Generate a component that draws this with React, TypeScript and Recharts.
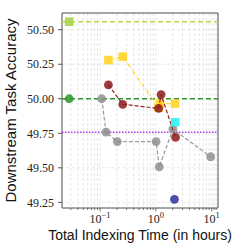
import React from "react";
import {
  ScatterChart,
  Scatter,
  XAxis,
  YAxis,
  CartesianGrid,
  ReferenceLine,
  ReferenceArea,
  Label,
} from "recharts";

const xDomain: [number, number] = [0.0208, 12.97];
const yDomain: [number, number] = [49.209, 50.621];

const yTicks = [49.25, 49.5, 49.75, 50.0, 50.25, 50.5];
const xTicks = [
  0.03, 0.04, 0.05, 0.06, 0.07, 0.08, 0.09,
  0.1, 0.2, 0.3, 0.4, 0.5, 0.6, 0.7, 0.8, 0.9,
  1, 2, 3, 4, 5, 6, 7, 8, 9,
  10, 11, 12,
];
const majorExponents: Record<string, string> = { "0.1": "−1", "1": "0", "10": "1" };

// baselines drawn as horizontal lines
const bestRefY = 50.558;
const baseRefY = 50.0;
const lowRefY = 49.758;

const limeX = [0.028];
const limeY = [50.558];

const greenX = [0.028];
const greenY = [50.0];

const yellowX = [0.141, 0.255, 1.12, 1.19, 2.2];
const yellowY = [50.28, 50.305, 49.935, 49.965, 49.965];

const redX = [0.141, 0.255, 1.12, 1.24, 2.25];
const redY = [50.1, 49.96, 49.93, 50.03, 49.72];

const greyX = [0.107, 0.128, 0.204, 1.01, 1.15, 2.02, 9.6];
const greyY = [50.0, 49.758, 49.69, 49.69, 49.507, 49.78, 49.58];

const cyanX = [2.22];
const cyanY = [49.83];

const blueX = [2.15];
const blueY = [49.272];

const zip = (xs: number[], ys: number[]) => xs.map((x, i) => ({ x, y: ys[i] }));

const square = (color: string) => (p: any) => (
  <rect x={p.cx - 4.3} y={p.cy - 4.3} width={8.6} height={8.6} fill={color} fillOpacity={0.85} />
);
const circle = (color: string) => (p: any) => (
  <circle cx={p.cx} cy={p.cy} r={4.4} fill={color} fillOpacity={0.85} />
);

const XTick = (props: any) => {
  const { x, y, payload } = props;
  const exp = majorExponents[String(payload.value)];
  return (
    <g>
      <line x1={x} x2={x} y1={y} y2={y + (exp ? 3.5 : 2)} stroke="#555" strokeWidth={0.8} />
      {exp && (
        <text
          x={x}
          y={y + 15}
          textAnchor="middle"
          fontFamily="Liberation Serif"
          fontSize={12}
          fill="#222"
        >
          10
          <tspan dy={-5} fontSize={8.5}>
            {exp}
          </tspan>
        </text>
      )}
    </g>
  );
};

const YTitle = (props: any) => {
  const { viewBox } = props;
  const cx = 10;
  const cy = viewBox.y + viewBox.height / 2;
  return (
    <text
      x={cx}
      y={cy}
      transform={`rotate(-90 ${cx} ${cy})`}
      textAnchor="middle"
      dominantBaseline="central"
      fontFamily="Liberation Sans"
      fontSize={15}
      fill="#111"
    >
      Downstream Task Accuracy
    </text>
  );
};

export default function App() {
  return (
    <div style={{ position: "fixed", left: 0, top: 0, width: 243, height: 252, background: "#fff" }}>
      <ScatterChart width={243} height={252} margin={{ top: 13, right: 25, bottom: 0, left: 0 }}>
        <CartesianGrid stroke="#dcdcdc" strokeDasharray="3 2" strokeWidth={0.7} />
        <XAxis
          type="number"
          dataKey="x"
          scale="log"
          domain={xDomain}
          allowDataOverflow
          ticks={xTicks}
          interval={0}
          tick={<XTick />}
          tickLine={false}
          tickSize={0}
          tickMargin={0}
          axisLine={false}
          height={44}
        >
          <Label
            value="Total Indexing Time (in hours)"
            position="insideBottom"
            offset={12}
            style={{ fontFamily: "Liberation Sans", fontSize: 14, fill: "#111" }}
          />
        </XAxis>
        <YAxis
          type="number"
          dataKey="y"
          domain={yDomain}
          allowDataOverflow
          ticks={yTicks}
          interval={0}
          tickFormatter={(v: number) => v.toFixed(2)}
          tick={{ fontFamily: "Liberation Serif", fontSize: 12, fill: "#222" }}
          tickSize={4}
          tickMargin={4}
          tickLine={{ stroke: "#555" }}
          axisLine={false}
          width={62}
        >
          <Label content={<YTitle />} />
        </YAxis>
        <ReferenceArea
          x1={xDomain[0]}
          x2={xDomain[1]}
          y1={yDomain[0]}
          y2={yDomain[1]}
          fill="none"
          stroke="#555"
          strokeWidth={1}
          ifOverflow="visible"
        />
        <ReferenceLine y={bestRefY} stroke="#b5d94f" strokeWidth={1.4} strokeDasharray="5 3" />
        <ReferenceLine y={baseRefY} stroke="#2f962f" strokeWidth={1.5} strokeDasharray="5 3" />
        <ReferenceLine y={lowRefY} stroke="#b03cf0" strokeWidth={1.5} strokeDasharray="1.5 1.5" />

        <Scatter
          data={zip(greyX, greyY)}
          line={{ stroke: "#9a9a9a", strokeWidth: 1.2, strokeDasharray: "4 2" }}
          shape={circle("#8f8f8f")}
          isAnimationActive={false}
        />
        <Scatter
          data={zip(yellowX, yellowY)}
          line={{ stroke: "#ffd633", strokeWidth: 1.2, strokeDasharray: "4 1.5 1 1.5" }}
          shape={square("#ffd21f")}
          isAnimationActive={false}
        />
        <Scatter
          data={zip(redX, redY)}
          line={{ stroke: "#962626", strokeWidth: 1.2, strokeDasharray: "4 2" }}
          shape={circle("#8b1a1a")}
          isAnimationActive={false}
        />
        <Scatter data={zip(limeX, limeY)} shape={square("#a3d43f")} isAnimationActive={false} />
        <Scatter data={zip(greenX, greenY)} shape={circle("#2a962a")} isAnimationActive={false} />
        <Scatter data={zip(cyanX, cyanY)} shape={square("#22f2f2")} isAnimationActive={false} />
        <Scatter data={zip(blueX, blueY)} shape={circle("#2e2e9c")} isAnimationActive={false} />
      </ScatterChart>
    </div>
  );
}
